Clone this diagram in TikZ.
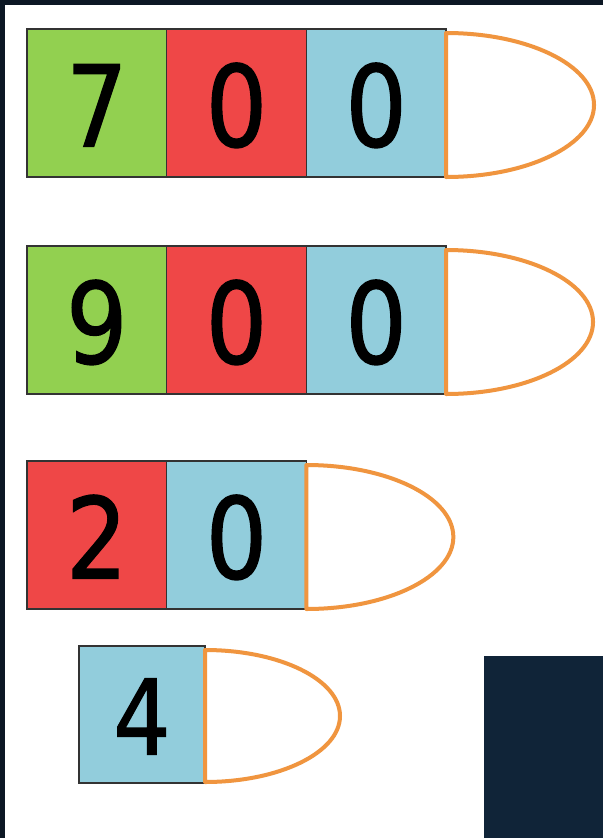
\documentclass[tikz,border=0pt]{standalone}
\usepackage{fontspec}
\setmainfont{DejaVu Sans}
\newfontfamily\pvdigits{DejaVu Sans}[FakeStretch=0.86, FakeBold=1.2]
\usetikzlibrary{positioning}
\definecolor{pvNight}{HTML}{0C1724}
\definecolor{pvSlate}{HTML}{102438}
\definecolor{pvGreen}{HTML}{92D050}
\definecolor{pvRed}{HTML}{EF4747}
\definecolor{pvBlue}{HTML}{92CDDC}
\definecolor{pvOrange}{HTML}{F0953F}
\tikzset{
  pv cell/.style={
    draw=black!80, line width=.35mm, inner sep=0pt, outer sep=0pt,
    minimum width=4.19cm, minimum height=4.44cm,
    text height=2.6cm, text depth=0pt,
    font=\pvdigits\fontsize{96}{96}\selectfont
  },
  pv small cell/.style={pv cell, minimum width=3.78cm, minimum height=4.11cm,
    text height=2.4cm, font=\pvdigits\fontsize{89}{89}\selectfont},
  pv ones/.style={fill=pvBlue},
  pv tens/.style={fill=pvRed},
  pv hundreds/.style={fill=pvGreen},
  pv cap/.style={draw=pvOrange, fill=white, line width=1.2mm, line join=round}
}
\begin{document}
\begin{tikzpicture}[x=.03cm,y=-.03cm]
  % backdrop
  \fill[pvNight] (0,0) rectangle (603,838);
  \fill[white] (5,5) rectangle (603,838);
  \fill[pvSlate] (484,656) rectangle (603,838);

  % 700
  \node[pv cell, pv hundreds, anchor=north west] (h1) at (27,29) {7};
  \node[pv cell, pv tens, right=0pt of h1] (t1) {0};
  \node[pv cell, pv ones, right=0pt of t1] (o1) {0};
  \draw[pv cap] ([yshift=-.12cm]o1.north east)
    arc[start angle=-90, end angle=90, x radius=148, y radius=72] -- cycle;

  % 900
  \node[pv cell, pv hundreds, anchor=north west] (h2) at (27,246) {9};
  \node[pv cell, pv tens, right=0pt of h2] (t2) {0};
  \node[pv cell, pv ones, right=0pt of t2] (o2) {0};
  \draw[pv cap] ([yshift=-.12cm]o2.north east)
    arc[start angle=-90, end angle=90, x radius=147, y radius=72] -- cycle;

  % 20
  \node[pv cell, pv tens, anchor=north west] (t3) at (27,461) {2};
  \node[pv cell, pv ones, right=0pt of t3] (o3) {0};
  \draw[pv cap] ([yshift=-.12cm]o3.north east)
    arc[start angle=-90, end angle=90, x radius=147, y radius=72] -- cycle;

  % 4
  \node[pv small cell, pv ones, anchor=north west] (o4) at (79,646) {4};
  \draw[pv cap] ([yshift=-.12cm]o4.north east)
    arc[start angle=-90, end angle=90, x radius=135, y radius=66] -- cycle;
\end{tikzpicture}
\end{document}
